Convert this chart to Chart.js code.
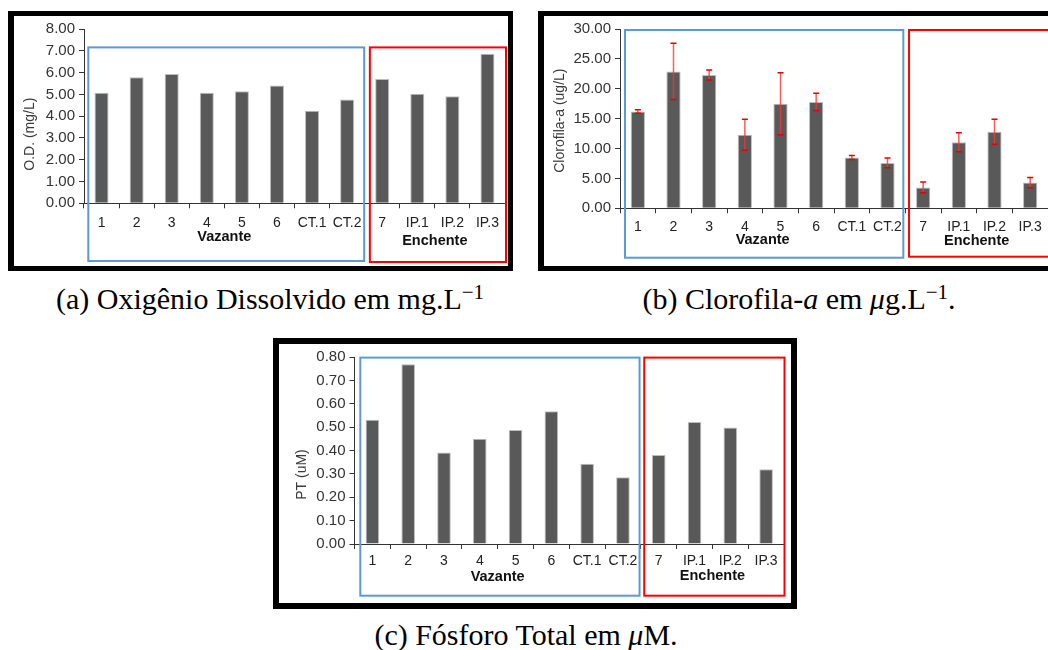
<!DOCTYPE html>
<html lang="pt">
<head>
<meta charset="utf-8">
<title>Qualidade da água – Vazante e Enchente</title>
<script src="https://cdn.jsdelivr.net/npm/chart.js@4.4.1/dist/chart.umd.min.js"></script>
<style>
  html, body { margin: 0; padding: 0; background: #fff; }
  body { width: 1048px; height: 650px; overflow: hidden; position: relative; }
  .frame { position: absolute; border: solid #000; box-sizing: border-box; background: #fff; overflow: hidden; }
  .frame canvas { position: absolute; left: 0; top: 0; }
  .caption {
    position: absolute; white-space: nowrap; line-height: 1; color: #000;
    font-family: "Liberation Serif", "Times New Roman", serif; font-size: 30px;
    transform: translateX(-50%);
  }
  .caption sup { font-size: 0.7em; vertical-align: 0.5em; line-height: 0; }
</style>
</head>
<body>

<div class="frame" style="left:8px; top:11px; width:505px; height:260px; border-width:5px 5px 5px 6px;">
  <canvas id="chartOD" width="494" height="250"></canvas>
</div>
<div class="frame" style="left:538px; top:11px; width:540px; height:260px; border-width:5px 5px 5px 6px;">
  <canvas id="chartChla" width="529" height="250"></canvas>
</div>
<div class="frame" style="left:273px; top:338px; width:524px; height:271px; border-width:6px;">
  <canvas id="chartPT" width="512" height="259"></canvas>
</div>

<div class="caption" style="left:270px; top:284px;">(a) Oxigênio Dissolvido em mg.L<sup>−1</sup></div>
<div class="caption" style="left:799px; top:284px;">(b) Clorofila-<i>a</i> em <i>μ</i>g.L<sup>−1</sup>.</div>
<div class="caption" style="left:526px; top:620px;">(c) Fósforo Total em <i>μ</i>M.</div>

<script>
// estações de coleta e períodos
const stations = ['1', '2', '3', '4', '5', '6', 'CT.1', 'CT.2', '7', 'IP.1', 'IP.2', 'IP.3'];
const seasons = ['Vazante', 'Enchente'];
const seasonSizes = [8, 4];

// O.D. (mg/L)
const oxigenio = [5.07, 5.78, 5.94, 5.07, 5.14, 5.41, 4.25, 4.76, 5.70, 5.03, 4.91, 6.86];
// Clorofila-a (ug/L) e desvio
const clorofila = [16.2, 22.9, 22.3, 12.3, 17.5, 17.8, 8.5, 7.6, 3.5, 11.05, 12.8, 4.3];
const clorofilaDesvio = [0.3, 4.7, 0.85, 2.6, 5.2, 1.45, 0.35, 0.8, 0.9, 1.6, 2.1, 0.85];
// PT (uM)
const fosforo = [0.532, 0.769, 0.391, 0.450, 0.488, 0.568, 0.343, 0.286, 0.381, 0.522, 0.498, 0.320];

const AXIS = '#333';
const SANS = '"Liberation Sans", Arial, sans-serif';

// caixas dos períodos, rótulos de grupo, título do eixo y e barras de erro
const decorPlugin = {
  id: 'decor',
  afterDatasetsDraw(chart, args, opts) {
    if (!opts.errors) return;
    const {ctx, scales: {y}} = chart;
    const values = chart.data.datasets[0].data;
    ctx.save();
    chart.getDatasetMeta(0).data.forEach((bar, i) => {
      const hi = y.getPixelForValue(values[i] + opts.errors[i]);
      const lo = y.getPixelForValue(values[i] - opts.errors[i]);
      ctx.strokeStyle = 'rgba(255,50,50,0.8)';
      ctx.lineWidth = 1.5;
      ctx.beginPath();
      ctx.moveTo(bar.x, hi);
      ctx.lineTo(bar.x, lo);
      ctx.stroke();
      ctx.strokeStyle = '#e80000';
      ctx.beginPath();
      ctx.moveTo(bar.x - 3, hi); ctx.lineTo(bar.x + 3, hi);
      ctx.moveTo(bar.x - 3, lo); ctx.lineTo(bar.x + 3, lo);
      ctx.stroke();
    });
    ctx.restore();
  },
  afterDraw(chart, args, opts) {
    const {ctx, chartArea: area, scales: {x}} = chart;
    const split = seasonSizes[0];
    const edge = (x.getPixelForValue(split - 1) + x.getPixelForValue(split)) / 2;
    const b = opts.box;
    const top = area.top + b.top;
    ctx.save();
    ctx.lineWidth = 2;
    ctx.strokeStyle = '#5b9bd5';
    ctx.strokeRect(area.left + b.blueLeft, top, edge + b.blueRight - area.left - b.blueLeft, area.bottom + b.blueBottom - top);
    ctx.strokeStyle = '#ff0000';
    ctx.strokeRect(edge + b.redLeft, top, area.right + b.redRight - edge - b.redLeft, area.bottom + b.redBottom - top);

    // nomes dos períodos
    ctx.fillStyle = '#111';
    ctx.font = 'bold 14.5px ' + SANS;
    ctx.textAlign = 'center';
    ctx.textBaseline = 'middle';
    let first = 0;
    seasons.forEach((name, k) => {
      const last = first + seasonSizes[k] - 1;
      const cx = (x.getPixelForValue(first) + x.getPixelForValue(last)) / 2;
      ctx.fillText(name, cx, area.bottom + opts.groupDy[k]);
      first = last + 1;
    });

    // título do eixo y
    ctx.translate(area.left + opts.titleDx, (area.top + area.bottom) / 2 + opts.titleDy);
    ctx.rotate(-Math.PI / 2);
    ctx.fillStyle = '#3a3a3a';
    ctx.font = '14px ' + SANS;
    ctx.fillText(opts.title, 0, 0);
    ctx.restore();
  }
};

function makeChart(id, values, setup) {
  return new Chart(document.getElementById(id), {
    type: 'bar',
    data: {
      labels: stations,
      datasets: [{
        data: values,
        backgroundColor: '#595959',
        borderColor: '#bdbdbd',
        borderWidth: {top: 1, left: 1, right: 1, bottom: 0},
        borderSkipped: false,
        categoryPercentage: 1,
        barPercentage: setup.barPct
      }]
    },
    options: {
      responsive: false,
      animation: false,
      devicePixelRatio: 1,
      layout: {padding: setup.padding},
      plugins: {
        legend: {display: false},
        tooltip: {enabled: false},
        decor: setup.decor
      },
      scales: {
        x: {
          afterFit(scale) { scale.height = 40; },
          grid: {display: true, drawOnChartArea: false, tickLength: 5, color: AXIS, offset: true},
          border: {display: true, color: AXIS, width: 1},
          ticks: {color: '#222', padding: setup.xPad, maxRotation: 0, autoSkip: false, font: {family: SANS, size: 14}}
        },
        y: {
          min: 0,
          max: setup.max,
          afterFit(scale) { scale.width = setup.yWidth; },
          grid: {display: true, drawOnChartArea: false, tickLength: 5, color: AXIS},
          border: {display: true, color: AXIS, width: 1},
          ticks: {
            stepSize: setup.step,
            color: '#333',
            padding: 4,
            font: {family: SANS, size: 15},
            callback: v => Number(v).toFixed(2)
          }
        }
      }
    },
    plugins: [decorPlugin]
  });
}

makeChart('chartOD', oxigenio, {
  max: 8, step: 1, yWidth: 70, xPad: 6, barPct: 0.4,
  padding: {top: 12.3, right: 3, bottom: 22.7, left: 0},
  decor: {
    title: 'O.D. (mg/L)', titleDx: -54, titleDy: 18,
    groupDy: [33.5, 37.5],
    box: {top: 18.4, blueLeft: 4.3, blueRight: -0.5, blueBottom: 57.7, redLeft: 5.2, redRight: 1, redBottom: 58.7}
  }
});

makeChart('chartChla', clorofila, {
  max: 30, step: 5, yWidth: 76, xPad: 5, barPct: 0.4,
  padding: {top: 12.3, right: 25, bottom: 17.7, left: 0},
  decor: {
    title: 'Clorofila-a (ug/L)', titleDx: -60, titleDy: 2,
    groupDy: [31.7, 32.4],
    errors: clorofilaDesvio,
    box: {top: 1, blueLeft: 5, blueRight: -2, blueBottom: 49.4, redLeft: 3.7, redRight: 40, redBottom: 48.4}
  }
});

makeChart('chartPT', fosforo, {
  max: 0.8, step: 0.1, yWidth: 75.5, xPad: 4, barPct: 0.38,
  padding: {top: 12.7, right: 7, bottom: 19, left: 0},
  decor: {
    title: 'PT (uM)', titleDx: -52, titleDy: 24,
    groupDy: [33.3, 32],
    box: {top: 0.6, blueLeft: 5.8, blueRight: -1.3, blueBottom: 51.7, redLeft: 3.4, redRight: 0.5, redBottom: 51.7}
  }
});
</script>
</body>
</html>
